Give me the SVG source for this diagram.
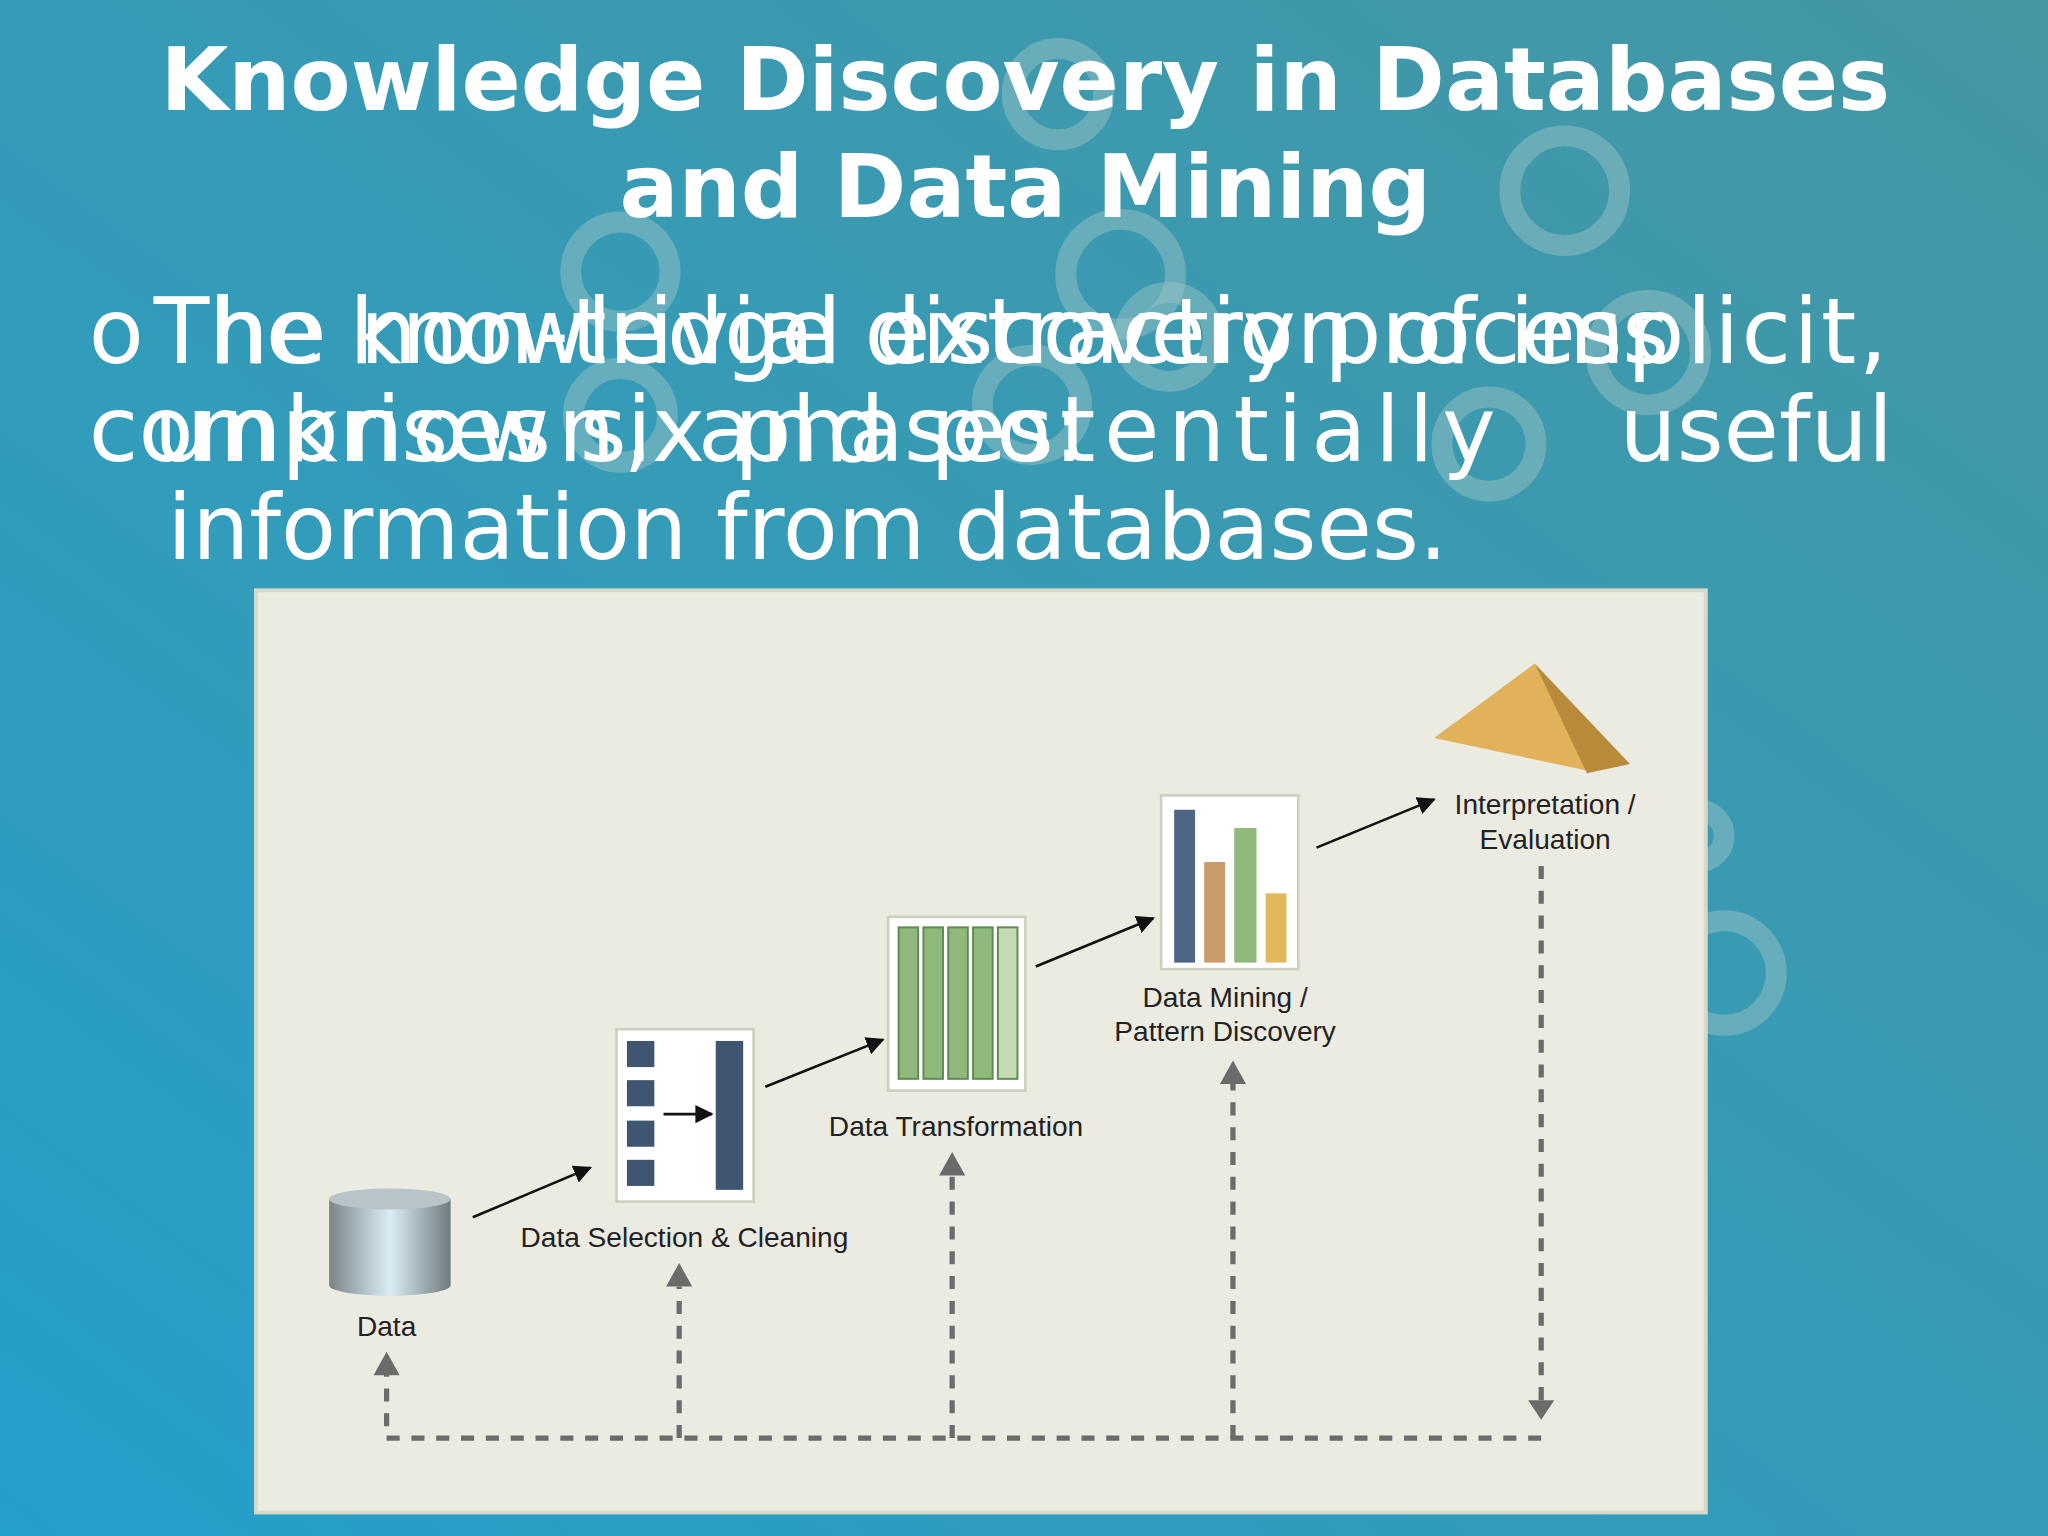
<svg xmlns="http://www.w3.org/2000/svg" width="2048" height="1536" viewBox="0 0 2048 1536">
<defs>
<linearGradient id="bg" x1="1" y1="0" x2="0" y2="1"><stop offset="0" stop-color="#4597a3"/><stop offset="1" stop-color="#259fcb"/></linearGradient>
<linearGradient id="cyl" x1="0" x2="1"><stop offset="0" stop-color="#7a8488"/><stop offset="0.5" stop-color="#dbeef5"/><stop offset="1" stop-color="#6f7a7e"/></linearGradient>
<marker id="ah" viewBox="0 0 10 10" refX="9" refY="5" markerWidth="7" markerHeight="7" orient="auto"><path d="M0,0L10,5L0,10z" fill="#111"/></marker>
<style>
.t{font-family:"DejaVu Sans",sans-serif;fill:#fff}
.l{font-family:"Liberation Sans",Arial,sans-serif;font-size:21.5px;fill:#222;text-anchor:middle}
.box{fill:#fff;stroke:#cfcfc0;stroke-width:2}
.c{fill:none;stroke:#9fc6c8;stroke-width:16;opacity:0.45}
.d{fill:none;stroke:#6b6b6b;stroke-width:4;stroke-dasharray:10 9}
.a{stroke:#111;stroke-width:2;marker-end:url(#ah)}
</style>
</defs>
<rect width="2048" height="1536" fill="url(#bg)"/>
<g transform="scale(1.3061)">
<g id="decor">
<circle class="c" cx="1198" cy="146" r="42"/><circle class="c" cx="475" cy="208" r="38"/><circle class="c" cx="858" cy="210" r="42"/><circle class="c" cx="810" cy="72" r="35"/><circle class="c" cx="895" cy="258" r="34"/><circle class="c" cx="1262" cy="270" r="40"/><circle class="c" cx="475" cy="318" r="36"/><circle class="c" cx="790" cy="310" r="38"/><circle class="c" cx="1140" cy="340" r="36"/><circle class="c" cx="1320" cy="745" r="40"/><circle class="c" cx="1300" cy="640" r="20"/>
</g>
<g id="title" class="t" font-weight="bold" font-size="67" text-anchor="middle">
<text x="785" y="84">Knowledge Discovery in Databases</text>
<text x="785" y="166">and Data Mining</text>
</g>
<g id="body" class="t" font-size="69">
<text x="68" y="278">o</text>
<text x="118" y="278" textLength="1327" lengthAdjust="spacing">The non-trivial extraction of implicit,</text>
<text x="118" y="278" textLength="1160" lengthAdjust="spacing">The knowledge discovery process</text>
<text x="68" y="353" textLength="762" lengthAdjust="spacing">comprises six phases:</text>
<text x="118" y="353" textLength="1027" lengthAdjust="spacing">unknown, and potentially</text>
<text x="1240" y="353">useful</text>
<text x="128" y="428">information from databases.</text>
</g>
<rect id="panel" x="196" y="452" width="1110" height="706" fill="#ecebe2" stroke="#d9d9c9" stroke-width="3"/>
<g id="data">
<path d="M252,918 V984 A46,8 0 0 0 345,984 V918 Z" fill="url(#cyl)"/>
<ellipse cx="298.5" cy="918" rx="46.5" ry="8" fill="#b8c4c8"/>
<text class="l" x="296" y="1023">Data</text>
</g>
<g id="selection">
<rect class="box" x="472" y="788" width="105" height="132"/>
<g fill="#3f5670"><rect x="480" y="797" width="21" height="20"/><rect x="480" y="827" width="21" height="20"/><rect x="480" y="858" width="21" height="20"/><rect x="480" y="888" width="21" height="20"/><rect x="548" y="797" width="21" height="114"/></g>
<line class="a" x1="508" y1="853" x2="545" y2="853"/>
<text class="l" x="524" y="955">Data Selection &amp; Cleaning</text>
</g>
<g id="transformation">
<rect class="box" x="680" y="702" width="105" height="133"/>
<g fill="#8fb87a" stroke="#5f8a55" stroke-width="1.5"><rect x="688" y="710" width="15" height="116"/><rect x="707" y="710" width="15" height="116"/><rect x="726" y="710" width="15" height="116"/><rect x="745" y="710" width="15" height="116"/><rect x="764" y="710" width="15" height="116" fill="#c5dbb4"/></g>
<text class="l" x="732" y="870">Data Transformation</text>
</g>
<g id="mining">
<rect class="box" x="889" y="609" width="105" height="133"/>
<rect x="899" y="620" width="16" height="117" fill="#4d6685"/><rect x="922" y="660" width="16" height="77" fill="#c99a6a"/><rect x="945" y="634" width="17" height="103" fill="#8fb87a"/><rect x="969" y="684" width="16" height="53" fill="#e1b85c"/>
<text class="l" x="938" y="771">Data Mining /</text><text class="l" x="938" y="797">Pattern Discovery</text>
</g>
<g id="interpretation">
<polygon points="1098,565 1175,508 1215,590" fill="#e2b25a"/><polygon points="1175,508 1248,585 1215,592" fill="#b88a3a"/>
<text class="l" x="1183" y="623">Interpretation /</text><text class="l" x="1183" y="650">Evaluation</text>
</g>
<g id="connectors">
<line class="a" x1="362" y1="932" x2="452" y2="894"/>
<line class="a" x1="586" y1="832" x2="676" y2="796"/>
<line class="a" x1="793" y1="740" x2="883" y2="703"/>
<line class="a" x1="1008" y1="649" x2="1098" y2="612"/>
<path class="d" d="M1180,663 V1084"/>
<polygon points="1170,1072 1190,1072 1180,1087" fill="#6b6b6b"/>
<path class="d" d="M1180,1101 H296 V1050"/>
<path class="d" d="M520,1101 V985"/><path class="d" d="M729,1101 V900"/><path class="d" d="M944,1101 V830"/>
<polygon points="286,1053 306,1053 296,1035" fill="#6b6b6b"/>
<polygon points="510,985 530,985 520,967" fill="#6b6b6b"/>
<polygon points="719,900 739,900 729,882" fill="#6b6b6b"/>
<polygon points="934,830 954,830 944,812" fill="#6b6b6b"/>
</g>
</g>
</svg>
